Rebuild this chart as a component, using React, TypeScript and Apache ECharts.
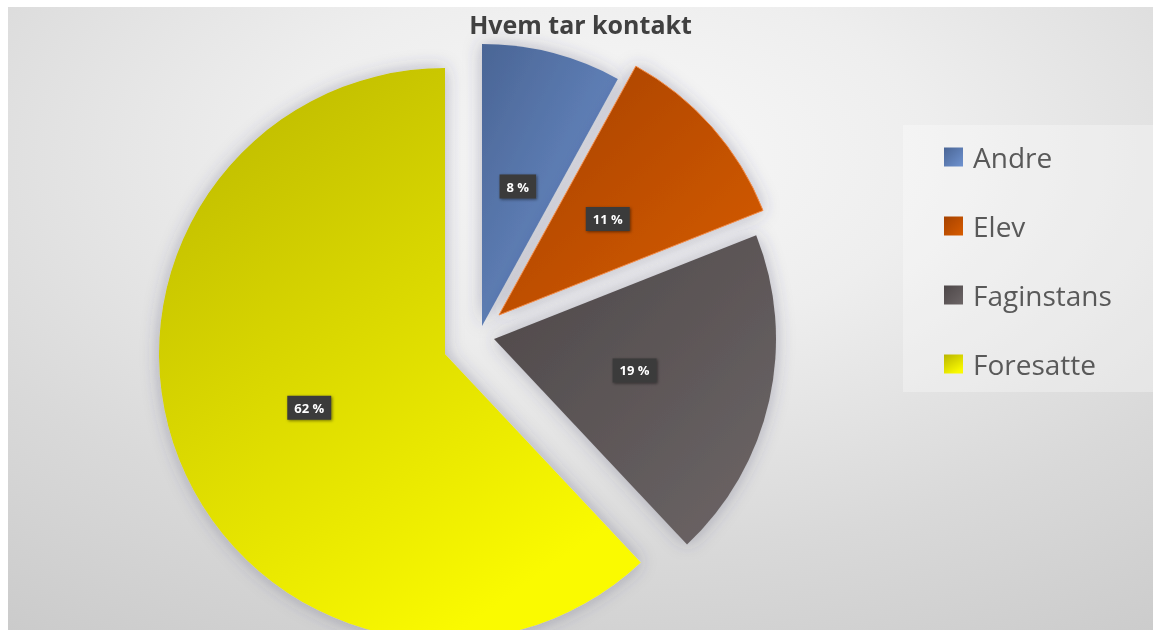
import React, { useEffect, useRef } from "react";
import * as echarts from "echarts";

const titleText = "Hvem tar kontakt";
const categories = ["Andre", "Elev", "Faginstans", "Foresatte"];
const shares = [8, 11, 19, 62];

// exploded slice geometry (chart coordinates)
const sliceCenters: [number, number][] = [
  [474, 319],
  [491, 308],
  [486, 332],
  [437, 347],
];
const sliceRadii = [282, 284, 282, 286];

const grad = (x2: number, y2: number, c0: string, c1: string) => ({
  type: "linear",
  x: 0,
  y: 0,
  x2,
  y2,
  colorStops: [
    { offset: 0, color: c0 },
    { offset: 1, color: c1 },
  ],
});

const sliceFills = [
  grad(1, 1, "#4a6595", "#6f93d0"),
  grad(1, 1, "#a54200", "#d85c00"),
  grad(1, 1, "#4d4748", "#6d6667"),
  grad(0.6, 1, "#b9b500", "#fafa00"),
];
const sliceBorders = ["rgba(0,0,0,0)", "#f08a45", "rgba(0,0,0,0)", "rgba(0,0,0,0)"];

export default function App() {
  const ref = useRef<HTMLDivElement>(null);
  useEffect(() => {
    if (!ref.current) return;
    const chart = echarts.init(ref.current, null, { renderer: "svg" });
    const W = 1145;
    const H = 623;
    const series = categories.map((_, k) => ({
      type: "pie",
      center: sliceCenters[k],
      radius: sliceRadii[k],
      startAngle: 90,
      clockwise: true,
      silent: true,
      avoidLabelOverlap: false,
      z: 3,
      labelLine: { show: false },
      emphasis: { disabled: true },
      label: {
        show: true,
        position: "inside",
        formatter: (p: any) => p.value + " %",
        color: "#ffffff",
        fontWeight: "bold",
        fontSize: 13,
        fontFamily: "Open Sans",
        backgroundColor: "#3a3a3a",
        padding: [6, 7, 5, 7],
        shadowBlur: 3,
        shadowColor: "rgba(0,0,0,0.5)",
        shadowOffsetX: 1,
        shadowOffsetY: 1,
      },
      data: categories.map((name, i) => ({
        name,
        value: shares[i],
        itemStyle:
          i === k
            ? {
                color: sliceFills[i],
                borderColor: sliceBorders[i],
                borderWidth: 1,
                shadowBlur: 18,
                shadowColor: "rgba(60,60,100,0.35)",
              }
            : { color: "rgba(0,0,0,0)", borderWidth: 0, shadowBlur: 0 },
        label: { show: i === k },
      })),
    }));

    chart.setOption({
      animation: false,
      title: {
        text: titleText,
        left: "center",
        top: 3,
        padding: 0,
        textStyle: {
          fontFamily: "Open Sans",
          fontWeight: "bold",
          fontSize: 25,
          lineHeight: 28,
          color: "#404040",
        },
      },
      legend: {
        orient: "vertical",
        left: 935,
        top: 135,
        padding: 0,
        itemWidth: 19,
        itemHeight: 19,
        itemGap: 39,
        icon: "rect",
        selectedMode: false,
        textStyle: {
          fontFamily: "Open Sans",
          fontSize: 28,
          lineHeight: 30,
          color: "#595959",
          padding: [0, 0, 0, 5],
        },
        data: categories.map((name, i) => ({
          name,
          itemStyle: { color: sliceFills[i] },
        })),
      },
      graphic: [
        {
          type: "rect",
          z: -10,
          silent: true,
          shape: { x: 0, y: 0, width: W, height: H },
          style: {
            fill: {
              type: "radial",
              x: 0.52,
              y: 0.24,
              r: 1.15,
              colorStops: [
                { offset: 0, color: "#f8f8f8" },
                { offset: 0.25, color: "#eeeeee" },
                { offset: 0.55, color: "#d9d9d9" },
                { offset: 0.8, color: "#cbcbcb" },
                { offset: 1, color: "#c2c2c2" },
              ],
            },
          },
        },
        {
          type: "rect",
          z: -5,
          silent: true,
          shape: { x: 895, y: 118, width: 250, height: 267 },
          style: { fill: "rgba(255,255,255,0.3)" },
        },
      ],
      series,
    });
    return () => chart.dispose();
  }, []);
  return (
    <div
      ref={ref}
      style={{ position: "fixed", left: 8, top: 7, width: 1145, height: 623 }}
    />
  );
}
